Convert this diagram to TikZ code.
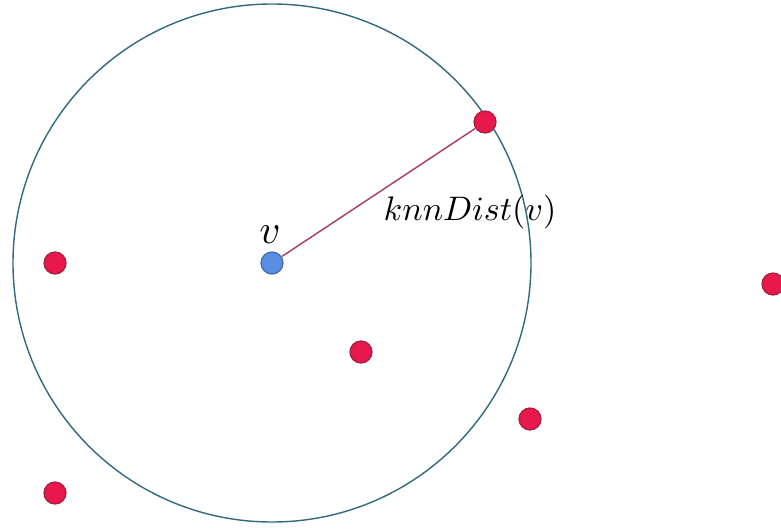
\documentclass[tikz,border=0pt]{standalone}
\usepackage{tikz}
\usetikzlibrary{positioning}
\definecolor{ringclr}{HTML}{2F6A7E}
\definecolor{linkclr}{HTML}{A83A5E}
\definecolor{ptfill}{HTML}{E8174C}
\definecolor{ptdraw}{HTML}{A3213F}
\definecolor{qfill}{HTML}{5A8EE2}
\definecolor{qdraw}{HTML}{3D6BAE}
\begin{document}
\begin{tikzpicture}[x=1pt, y=-1pt,
    pt/.style={circle, minimum size=22pt, inner sep=0pt, fill=ptfill, draw=ptdraw, line width=1.2pt},
    query/.style={pt, fill=qfill, draw=qdraw},
    lbl/.style={inner sep=0pt, scale=3.4},
  ]
  \useasboundingbox (0,0) rectangle (781,530);
  \draw[ringclr, line width=1.4pt] (272,263) circle[radius=259pt];

  \node[query] (v) at (272,263) {};
  \node[pt] (nn) at (485,122) {};
  \node[pt] (p1) at (55,263) {};
  \node[pt] (p2) at (361,352) {};
  \node[pt] (p3) at (530,419) {};
  \node[pt] (p4) at (55,493) {};
  \node[pt] (p5) at (773,284) {};

  \draw[linkclr, line width=1.4pt] (v) -- (nn);

  \node[lbl, scale=1.2] (vlbl) at (270,235) {$v$};
  \node[lbl] (dlbl) at (470,212) {$knnDist(v)$};
\end{tikzpicture}
\end{document}
